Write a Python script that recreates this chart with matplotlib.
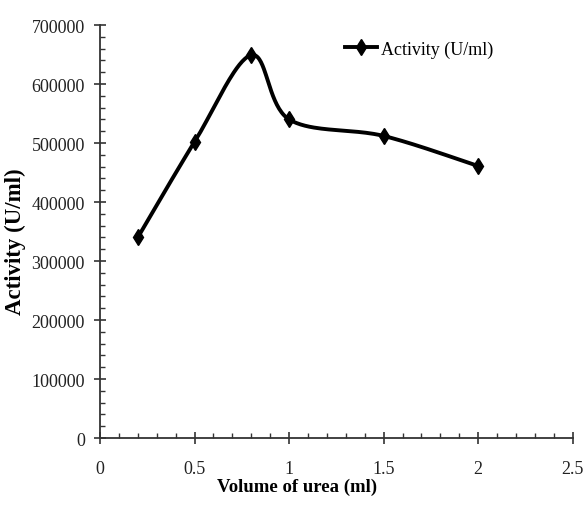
import matplotlib.pyplot as plt
import numpy as np
from matplotlib.ticker import MultipleLocator

# values
urea_volume = [0.2, 0.5, 0.8, 1.0, 1.5, 2.0]
activity = [340000, 502000, 649000, 540000, 512000, 461000]
x_ticks = [0, 0.5, 1, 1.5, 2, 2.5]
x_ticklabels = ['0', '0.5', '1', '1.5', '2', '2.5']


def smooth(xs, ys, n=40):
    # excel-style smoothed line: bezier segments with catmull-rom control points
    xs = np.asarray(xs, float)
    ys = np.asarray(ys, float)
    px = np.concatenate([[xs[0]], xs, [xs[-1]]])
    py = np.concatenate([[ys[0]], ys, [ys[-1]]])
    t = np.linspace(0, 1, n)
    outx, outy = [], []
    for i in range(1, len(px) - 2):
        p0 = np.array([px[i], py[i]])
        p3 = np.array([px[i + 1], py[i + 1]])
        c1 = p0 + (np.array([px[i + 1], py[i + 1]]) - np.array([px[i - 1], py[i - 1]])) / 6
        c2 = p3 - (np.array([px[i + 2], py[i + 2]]) - np.array([px[i], py[i]])) / 6
        pts = ((1 - t) ** 3)[:, None] * p0 + (3 * (1 - t) ** 2 * t)[:, None] * c1 \
            + (3 * (1 - t) * t ** 2)[:, None] * c2 + (t ** 3)[:, None] * p3
        outx.extend(pts[:, 0])
        outy.extend(pts[:, 1])
    return outx, outy


plt.rcParams['font.family'] = ['Liberation Serif', 'DejaVu Serif']

fig = plt.figure(figsize=(5.85, 5.06), dpi=100)
ax = fig.add_axes([0.171, 0.1324, 0.808, 0.8162])

sx, sy = smooth(urea_volume, activity)
ax.plot(sx, sy, color='black', lw=2.8, solid_capstyle='round')
ax.plot(urea_volume, activity, linestyle='none', marker='d', color='black', markersize=8.5)
# proxy for legend
ax.plot([], [], color='black', lw=2.8, marker='d', markersize=8, label='Activity (U/ml)')

ax.set_xlim(0, 2.5)
ax.set_ylim(0, 700000)
ax.xaxis.set_minor_locator(MultipleLocator(0.1))
ax.yaxis.set_major_locator(MultipleLocator(100000))
ax.yaxis.set_minor_locator(MultipleLocator(20000))
ax.set_xticks(x_ticks)
ax.set_xticklabels(x_ticklabels)

ax.spines['top'].set_visible(False)
ax.spines['right'].set_visible(False)
ax.spines['left'].set_linewidth(1.3)
ax.spines['left'].set_color('#333333')
ax.spines['bottom'].set_linewidth(1.3)
ax.spines['bottom'].set_color('#333333')
ax.tick_params(which='major', direction='inout', length=8, width=1.2, labelsize=13, colors='#333333', labelcolor='#222222')
ax.tick_params(which='minor', direction='in', length=3.5, width=1.0, colors='#333333')
ax.tick_params(axis='x', which='major', pad=12)
ax.tick_params(axis='y', which='major', pad=7)

ax.set_xlabel('Volume of urea (ml)', fontsize=13.5, fontweight='bold')
ax.xaxis.set_label_coords(0.416, -0.097)
ax.set_ylabel('Activity (U/ml)', fontsize=16.5, fontweight='bold')
ax.yaxis.set_label_coords(-0.157, 0.477)

ax.legend(loc='center left', bbox_to_anchor=(0.518, 0.942), frameon=False, fontsize=13,
          borderpad=0, borderaxespad=0, handlelength=1.8, handletextpad=0.2)

plt.savefig('out.png', dpi=100)
